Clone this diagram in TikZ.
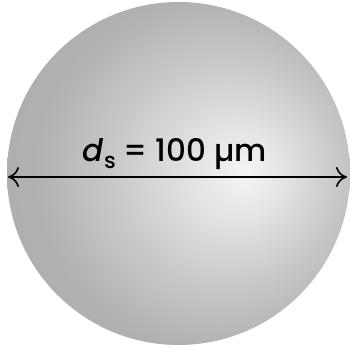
\documentclass[tikz,border=0pt]{standalone}
\usepackage{fontspec}
\setmainfont{Poppins}
\newfontfamily\lblfont{Poppins Medium}
\usetikzlibrary{arrows.meta}
\pgfdeclareradialshading{sph}{\pgfpoint{10bp}{0bp}}{color(0bp)=(gray!8); color(6bp)=(gray!20); color(16bp)=(gray!42); color(26bp)=(gray!62); color(50bp)=(gray!66)}
\tikzset{
  dim/.style={line width=1.6pt, {To[length=11pt,width=20pt,line width=1.6pt]}-{To[length=11pt,width=20pt,line width=1.6pt]}},
  lbl/.style={font=\lblfont\fontsize{31}{33}\selectfont, anchor=base, inner sep=0pt}
}
\begin{document}
\begin{tikzpicture}[x=1pt,y=1pt]
\useasboundingbox (0,0) rectangle (350,347);
\node[circle, minimum size=343pt, inner sep=0pt, shading=sph] (ball) at (178.5,173.5) {};
\coordinate (l) at (8,170);
\coordinate (r) at (347,170);
\draw[dim] (l) -- (r);
\node[lbl] (t) at (175,185) {\textit{d}\raisebox{-0.2em}{\fontsize{22}{22}\selectfont s} = 100 µm};
\end{tikzpicture}
\end{document}
